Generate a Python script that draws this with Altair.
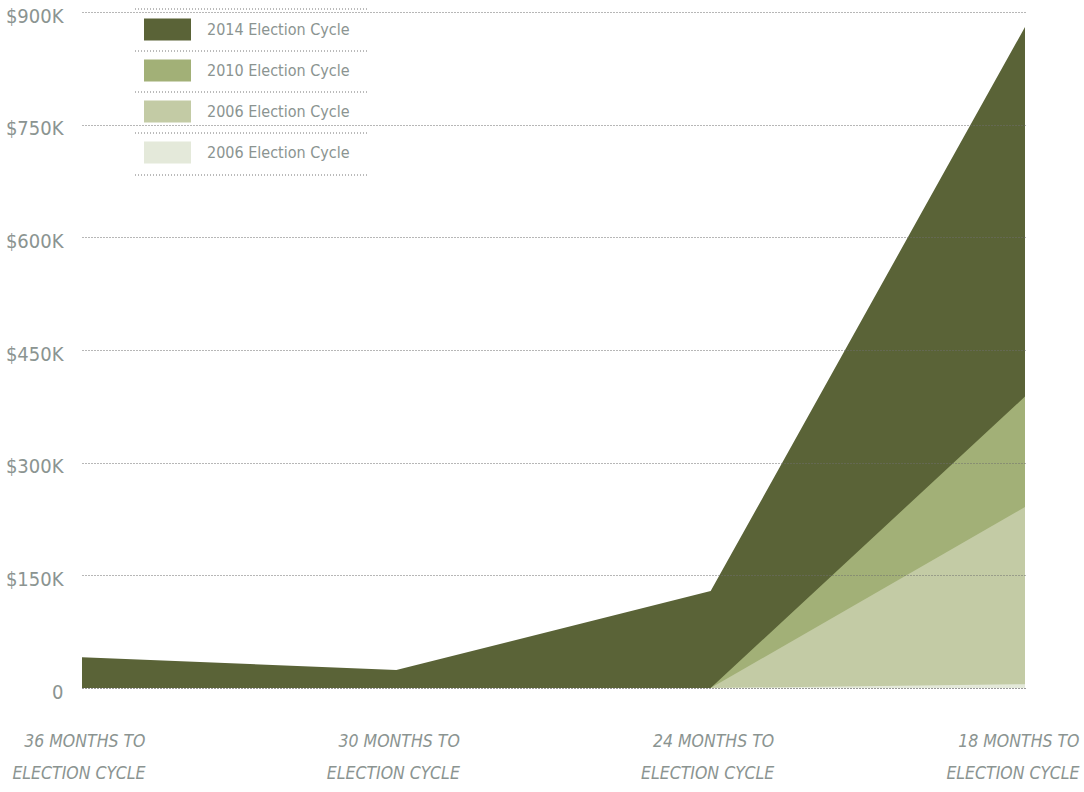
import altair as alt
import pandas as pd

# ---- data ----
periods = ["36 MONTHS TO|ELECTION CYCLE", "30 MONTHS TO|ELECTION CYCLE",
           "24 MONTHS TO|ELECTION CYCLE", "18 MONTHS TO|ELECTION CYCLE"]
series = ["2014 Election Cycle", "2010 Election Cycle", "2006 Election Cycle", "2006 Election Cycle "]
values_2014 = [41000, 24000, 129000, 880000]
values_2010 = [0, 0, 0, 388000]
values_2006 = [0, 0, 0, 241000]
values_2006b = [0, 0, 0, 5000]
colors = ["#5a6337", "#a2b077", "#c3cba5", "#e4e9da"]
y_ticks = [0, 150000, 300000, 450000, 600000, 750000, 900000]

all_values = [values_2014, values_2010, values_2006, values_2006b]
rows = []
for s, vals in zip(series, all_values):
    for p, v in zip(periods, vals):
        rows.append({"period": p, "series": s, "amount": v})
df = pd.DataFrame(rows)

FONT = "DejaVu Sans Condensed"
GRAY = "#8b9491"

x_enc = alt.X("period:O", sort=periods,
              scale=alt.Scale(type="point", padding=0),
              axis=alt.Axis(title=None, labelAngle=0, domain=False, ticks=False,
                            labelExpr="split(datum.label, '|')",
                            labelAlign="right",
                            labelOffset=alt.condition("indexof(datum.value, '18') == 0", alt.value(54), alt.value(63)),
                            labelPadding=44,
                            labelBaseline="top", labelLineHeight=32, labelLimit=0,
                            labelFont=FONT, labelFontSize=17.5, labelFontStyle="italic",
                            labelColor=GRAY))
y_enc = alt.Y("amount:Q", stack=None,
              scale=alt.Scale(domain=[0, 900000], nice=False),
              axis=alt.Axis(title=None, values=y_ticks, domain=False, ticks=False,
                            labelExpr="datum.value == 0 ? '0' : '$' + format(datum.value / 1000, 'd') + 'K'",
                            labelFont=FONT, labelFontSize=20, labelColor=GRAY,
                            labelPadding=19, labelOffset=4, zindex=1, labelLimit=0,
                            grid=True, gridDash=[1, 2], gridWidth=1,
                            gridColor=alt.condition("datum.value == 0", alt.value("#333333"), alt.value("#6f6f6f"))))
color_enc = alt.Color("series:N",
                      scale=alt.Scale(domain=series, range=colors),
                      legend=alt.Legend(title=None, orient="none", legendX=62, legendY=-6,
                                        symbolType="M-1,-0.468H1V0.468H-1Z", symbolSize=2209,
                                        symbolStrokeWidth=0, symbolOpacity=1,
                                        labelFont=FONT, labelFontSize=16, labelColor=GRAY,
                                        labelLimit=0,
                                        labelOffset=16, rowPadding=6, padding=0))

layers = []
for s in series:
    layers.append(
        alt.Chart(df).transform_filter(alt.datum.series == s)
        .mark_area(opacity=1, interpolate="linear")
        .encode(x=x_enc, y=y_enc, color=color_enc)
    )

# dotted separators of the legend block (decoration, in pixels)
legend_sep_y = [-3, 39, 80, 121, 163]
for py in legend_sep_y:
    layers.append(
        alt.Chart(df).mark_rule(color="#777777", strokeDash=[1, 2], strokeWidth=1)
        .encode(x=alt.value(53), x2=alt.value(286), y=alt.value(py))
        .transform_aggregate(n="count()")
    )

chart = alt.layer(*layers).properties(
    width=943, height=676,
    padding={"left": 82, "top": 12, "right": 59, "bottom": 104},
    autosize=alt.AutoSizeParams(type="none"),
    background="white",
).configure_view(stroke=None)

chart.save("out.html", embed_options={"renderer": "svg", "actions": False})
